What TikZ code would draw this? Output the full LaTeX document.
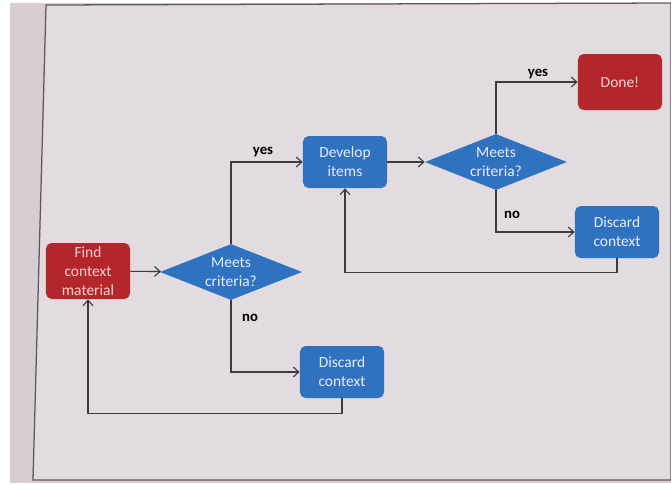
\documentclass[tikz,border=0pt]{standalone}
\usepackage{fontspec}
\setmainfont{Carlito}
\usetikzlibrary{arrows.meta,positioning,shapes.geometric}
\definecolor{slidebg}{HTML}{E2DBDF}
\definecolor{outbg}{HTML}{D8CDD3}
\definecolor{boxred}{HTML}{B3262C}
\definecolor{boxblue}{HTML}{2F72C0}
\definecolor{linegray}{HTML}{3E3B3D}

\begin{document}
\begin{tikzpicture}[
		x=0.025cm,y=-0.025cm,
		every node/.style={
			align=center,
			font=\fontsize{11}{13.5}\selectfont
		},
		redbox/.style={fill=boxred,text=red!18!white,rounded corners=4pt,
			minimum width=2.1cm,minimum height=1.4cm,inner sep=1pt},
		bluebox/.style={fill=boxblue,text=blue!8!white,rounded corners=4pt,
			minimum width=2.1cm,minimum height=1.3cm,inner sep=1pt},
		decision/.style={diamond,fill=boxblue,text=blue!8!white,aspect=2.6,
			inner sep=-1pt,minimum width=3.55cm,minimum height=1.4cm},
		lbl/.style={font=\fontsize{10.5}{12}\selectfont\bfseries,text=black},
		arr/.style={draw=linegray,line width=0.8pt,-{Straight Barb[length=4pt,width=7pt]}}
		]
		
		% photographed slide and its frame
		\useasboundingbox (0,0) rectangle (671,483);
		\fill[white] (0,0) rectangle (671,483);
		\fill[outbg] (10,3) rectangle (671,483);
		\filldraw[fill=slidebg,draw=linegray!85,line width=0.9pt]
			(46,5) -- (671,3) -- (671,480) -- (33,480) -- cycle;
		
		\node[redbox] (find) at (88,271) {Find\\context\\material};
		\node[decision] (crit1) at (231,272) {Meets\\criteria?};
		\node[bluebox] (develop) at (345,162) {Develop\\items};
		\node[bluebox] (discard1) at (342,372) {Discard\\context};
		\node[decision] (crit2) at (496,162) {Meets\\criteria?};
		\node[redbox] (done) at (620,82) {Done!};
		\node[bluebox] (discard2) at (617,232) {Discard\\context};
		
		\draw[arr] (find)--(crit1);
		\draw[arr] (crit1.north) |- (develop.west);
		\draw[arr] (crit1.south) |- (discard1.west);
		\draw[arr] (discard1.south) -- ++(0,15) -| (find.south);
		
		\draw[arr] (develop)--(crit2);
		\draw[arr] (crit2.north) |- (done.west);
		\draw[arr] (crit2.south) |- (discard2.west);
		\draw[arr] (discard2.south) -- ++(0,14) -| (develop.south);
		
		\node[lbl] (yes1) at (263,152) {yes};
		\node[lbl] (no1) at (250,318) {no};
		\node[lbl] (yes2) at (538,74) {yes};
		\node[lbl] (no2) at (512,215) {no};
		
	\end{tikzpicture}
\end{document}
